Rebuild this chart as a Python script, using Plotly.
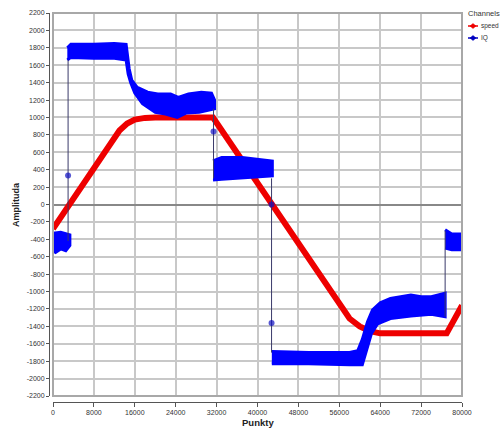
import plotly.graph_objects as go

# ---------------- data ----------------
x_ticks = [0, 8000, 16000, 24000, 32000, 40000, 48000, 56000, 64000, 72000, 80000]
y_ticks = list(range(-2200, 2201, 200))

# speed channel (key points of the red curve)
speed_x = [0, 13000, 14500, 16000, 18000, 20000, 31300, 58000, 60000, 62000, 64000, 77000, 80000]
speed_y = [-280, 850, 930, 975, 995, 1000, 1000, -1310, -1400, -1455, -1480, -1480, -1160]

# IQ channel: noisy bands, given as upper / lower envelopes of each segment
iq_seg1_x = [0, 1500, 3300, 3300, 2500, 1500, 500, 0]
iq_seg1_y = [-330, -320, -350, -470, -530, -510, -550, -530]

iq_seg2_x = [2800, 3500, 8000, 12000, 14300, 14600, 14900, 15400, 16400, 18500, 20500, 23000, 24500, 26500, 29000, 31000, 31600,
             31600, 28600, 26000, 24300, 22000, 20000, 17500, 16000, 15200, 14700, 14300, 12000, 8000, 3500, 2800]
iq_seg2_y = [1800, 1840, 1840, 1850, 1840, 1700, 1560, 1430, 1350, 1290, 1270, 1270, 1230, 1270, 1290, 1280, 1200,
             1100, 1060, 1050, 1000, 1040, 1060, 1160, 1280, 1400, 1500, 1660, 1680, 1680, 1690, 1660]

iq_seg3_x = [31300, 33000, 37000, 40000, 42900, 42900, 40000, 36000, 33000, 31300]
iq_seg3_y = [500, 540, 540, 520, 500, 330, 320, 300, 290, 280]

iq_seg4_x = [42800, 50000, 58000, 59600, 60500, 61500, 62500, 64000, 66000, 68000, 70000, 72000, 74000, 76700,
             76700, 74000, 70000, 66000, 63500, 62300, 61200, 60500, 58000, 50000, 42800]
iq_seg4_y = [-1690, -1700, -1700, -1680, -1550, -1350, -1210, -1130, -1080, -1060, -1040, -1060, -1060, -1020,
             -1290, -1260, -1280, -1310, -1370, -1480, -1700, -1840, -1840, -1830, -1830]

iq_seg5_x = [76700, 78000, 80000, 80000, 78000, 76700]
iq_seg5_y = [-290, -340, -340, -520, -520, -500]

# thin connectors between segments, with the isolated samples on them
conn_x = [2950, 2950, 2950, None, 31400, 31400, 31400, None, 42750, 42750, 42750, 42750, None, 76700, 76700]
conn_y = [-420, 333, 1660, None, 1100, 840, 300, None, 300, 0, -1360, -1700, None, -1290, -300]
conn_size = [0, 6, 0, 0, 0, 6, 0, 0, 0, 6, 6, 0, 0, 0, 0]

RED = "#ee0000"
BLUE = "#0000ff"

fig = go.Figure()

fig.add_trace(go.Scatter(x=speed_x, y=speed_y, mode="lines", name="speed",
                         line=dict(color=RED, width=6), showlegend=False))

for sx, sy in [(iq_seg1_x, iq_seg1_y), (iq_seg2_x, iq_seg2_y), (iq_seg3_x, iq_seg3_y),
               (iq_seg4_x, iq_seg4_y), (iq_seg5_x, iq_seg5_y)]:
    fig.add_trace(go.Scatter(x=sx, y=sy, mode="lines", fill="toself", fillcolor=BLUE,
                             line=dict(color=BLUE, width=3), showlegend=False, name="IQ"))

fig.add_trace(go.Scatter(x=conn_x, y=conn_y, mode="lines+markers", name="IQ",
                         line=dict(color="#3a3a6a", width=1),
                         marker=dict(color="#1010c0", size=conn_size, line=dict(width=0)),
                         showlegend=False))

# geometry helpers: arguments are pixel positions in the 504x429 window
W, H = 504, 429
ML, MT = 49, 13
MB = H - 402
MR = W - 462
PW = W - ML - MR
PH = H - MT - MB


def px(xp):
    return (xp - ML) / PW


def py(yp):
    return (H - MB - yp) / PH


fig.update_layout(
    width=W, height=H,
    margin=dict(l=ML, r=MR, t=MT, b=MB, pad=0, autoexpand=False),
    paper_bgcolor="white", plot_bgcolor="white",
    showlegend=False,
    font=dict(family="Liberation Sans, Arial, sans-serif", size=7, color="#333"),
    xaxis=dict(range=[0, 80000], tickvals=x_ticks, ticktext=[str(v) for v in x_ticks],
               domain=[px(53), 1], anchor="free", position=0,
               showgrid=True, gridcolor="#c8c8c8", gridwidth=1.5, zeroline=False,
               showline=True, linecolor="#555", linewidth=1,
               ticks="outside", ticklen=4, tickcolor="#555",
               tickfont=dict(size=7, color="#333")),
    yaxis=dict(range=[-2200, 2200], tickvals=y_ticks, ticktext=[str(v) for v in y_ticks],
               domain=[py(396), 1], anchor="free", position=0,
               showgrid=True, gridcolor="#c8c8c8", gridwidth=1.5,
               zeroline=True, zerolinecolor="#888", zerolinewidth=1.5,
               showline=True, linecolor="#555", linewidth=1,
               ticks="outside", ticklen=3, tickcolor="#555",
               tickfont=dict(size=7, color="#333")),
)

shapes = [
    dict(type="rect", xref="x domain", yref="y domain", x0=0, x1=1, y0=0, y1=1,
         line=dict(color="#a8a8a8", width=2), layer="above"),
    # legend symbols
    dict(type="line", xref="paper", yref="paper", x0=px(468), x1=px(478), y0=py(26), y1=py(26),
         line=dict(color=RED, width=1.5)),
    dict(type="path", xref="paper", yref="paper",
         path=f"M {px(470)} {py(26)} L {px(473)} {py(23.5)} L {px(476)} {py(26)} L {px(473)} {py(28.5)} Z",
         fillcolor=RED, line=dict(color=RED, width=0.5)),
    dict(type="line", xref="paper", yref="paper", x0=px(468), x1=px(478), y0=py(38), y1=py(38),
         line=dict(color="#0000c0", width=1.5)),
    dict(type="path", xref="paper", yref="paper",
         path=f"M {px(470)} {py(38)} L {px(473)} {py(35.5)} L {px(476)} {py(38)} L {px(473)} {py(40.5)} Z",
         fillcolor="#0000c0", line=dict(color="#0000c0", width=0.5)),
]
fig.update_layout(shapes=shapes)

annotations = [
    dict(text="Channels", xref="paper", yref="paper", x=px(466), y=py(13), xanchor="left", yanchor="middle",
         showarrow=False, font=dict(size=7.5, color="#333")),
    dict(text="speed", xref="paper", yref="paper", x=px(479), y=py(26), xanchor="left", yanchor="middle",
         showarrow=False, font=dict(size=6.5, color="#333")),
    dict(text="IQ", xref="paper", yref="paper", x=px(479), y=py(38), xanchor="left", yanchor="middle",
         showarrow=False, font=dict(size=6.5, color="#333")),
    dict(text="<b>Punkty</b>", xref="paper", yref="paper", x=px(258), y=py(422), xanchor="center", yanchor="middle",
         showarrow=False, font=dict(size=9.5, color="#222")),
    dict(text="<b>Amplituda</b>", xref="paper", yref="paper", x=px(16), y=py(205), xanchor="center", yanchor="middle",
         textangle=-90, showarrow=False, font=dict(size=9, color="#222")),
]
fig.update_layout(annotations=annotations)

# remove the browser's default 8px body margin so the figure sits at the window origin
fig.write_html("out.html",
               config={"displayModeBar": False},
               post_script="document.body.style.margin='0';document.body.style.overflow='hidden';")
